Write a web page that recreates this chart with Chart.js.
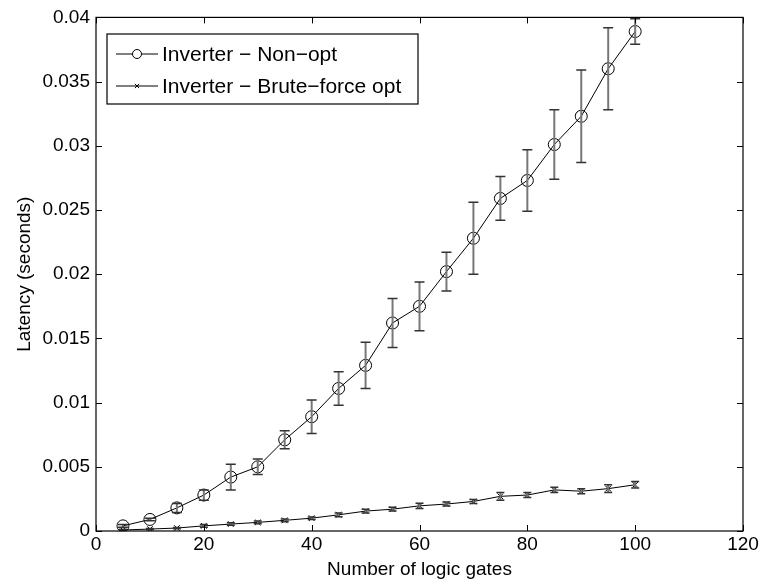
<!DOCTYPE html>
<html>
<head>
<meta charset="utf-8">
<script src="https://cdn.jsdelivr.net/npm/chart.js@4/dist/chart.umd.min.js"></script>
<style>
  html, body { margin: 0; padding: 0; background: #fff; }
  #wrap { width: 766px; height: 584px; }
</style>
</head>
<body>
<div id="wrap"><canvas id="latencyChart" width="766" height="584"></canvas></div>
<script>
const gates = [5, 10, 15, 20, 25, 30, 35, 40, 45, 50, 55, 60, 65, 70, 75, 80, 85, 90, 95, 100];

const nonOpt = [0.0004, 0.0009, 0.0018, 0.0028, 0.0042, 0.0050, 0.0071, 0.0089, 0.0111, 0.0129,
  0.0162, 0.0175, 0.0202, 0.0228, 0.0259, 0.0273, 0.0301, 0.0323, 0.0360, 0.0389];
const nonOptErr = [0.0001, 0.0001, 0.00035, 0.0004, 0.0010, 0.0006, 0.0007, 0.0013, 0.0013, 0.0018,
  0.0019, 0.0019, 0.0015, 0.0028, 0.0017, 0.0024, 0.0027, 0.0036, 0.0032, 0.0010];

const bruteOpt = [0.00008, 0.00015, 0.00023, 0.0004, 0.00054, 0.00067, 0.00083, 0.0010, 0.00126, 0.00155,
  0.0017, 0.00196, 0.0021, 0.0023, 0.0027, 0.0028, 0.0032, 0.0031, 0.0033, 0.0036];
const bruteOptErr = [0.00005, 0.00005, 0.00005, 0.0001, 0.0001, 0.0001, 0.0001, 0.0001, 0.00015, 0.00015,
  0.00015, 0.0002, 0.00015, 0.00015, 0.0003, 0.0002, 0.0002, 0.0002, 0.0003, 0.00025];

const xTicks = [0, 20, 40, 60, 80, 100, 120];
const yTicks = [0, 0.005, 0.01, 0.015, 0.02, 0.025, 0.03, 0.035, 0.04];

const FONT = '"Liberation Sans", Arial, Helvetica, sans-serif';

function pts(ys) {
  return gates.map((g, i) => ({ x: g, y: ys[i] }));
}

// error bars, frame, inward ticks and legend, all through the chart scales
const matlabLook = {
  id: 'matlabLook',
  afterDatasetsDraw(chart) {
    const ctx = chart.ctx;
    const xs = chart.scales.x, ys = chart.scales.y;
    ctx.save();
    chart.data.datasets.forEach(ds => {
      const cap = ds.capWidth;
      ds.data.forEach((p, i) => {
        const e = ds.errors[i];
        const px = xs.getPixelForValue(p.x);
        const top = ys.getPixelForValue(p.y + e);
        const bot = ys.getPixelForValue(p.y - e);
        ctx.strokeStyle = '#777';
        ctx.lineWidth = 2;
        ctx.beginPath();
        ctx.moveTo(px, top); ctx.lineTo(px, bot);
        ctx.stroke();
        ctx.strokeStyle = '#333';
        ctx.lineWidth = 1.5;
        ctx.beginPath();
        ctx.moveTo(px - cap, top); ctx.lineTo(px + cap, top);
        ctx.moveTo(px - cap, bot); ctx.lineTo(px + cap, bot);
        ctx.stroke();
      });
    });
    ctx.restore();
  },
  afterDraw(chart) {
    const ctx = chart.ctx;
    const a = chart.chartArea;
    const xs = chart.scales.x, ys = chart.scales.y;
    ctx.save();
    ctx.strokeStyle = '#000';
    ctx.lineWidth = 1.2;
    ctx.strokeRect(a.left, a.top, a.right - a.left, a.bottom - a.top);
    const t = 6;
    ctx.beginPath();
    xTicks.forEach(v => {
      const px = Math.round(xs.getPixelForValue(v)) + 0.5;
      ctx.moveTo(px, a.bottom); ctx.lineTo(px, a.bottom - t);
      ctx.moveTo(px, a.top); ctx.lineTo(px, a.top + t);
    });
    yTicks.forEach(v => {
      const py = Math.round(ys.getPixelForValue(v)) + 0.5;
      ctx.moveTo(a.left, py); ctx.lineTo(a.left + t, py);
      ctx.moveTo(a.right, py); ctx.lineTo(a.right - t, py);
    });
    ctx.lineWidth = 1;
    ctx.stroke();

    // legend box
    const lx = 107, ly = 34, lw = 311, lh = 70;
    ctx.fillStyle = '#fff';
    ctx.fillRect(lx, ly, lw, lh);
    ctx.lineWidth = 1.2;
    ctx.strokeRect(lx, ly, lw, lh);
    ctx.font = '21px ' + FONT;
    ctx.textBaseline = 'middle';
    chart.data.datasets.forEach((ds, i) => {
      const cy = ly + 20 + i * 32;
      ctx.strokeStyle = '#000';
      ctx.lineWidth = 1;
      ctx.beginPath();
      ctx.moveTo(116, cy); ctx.lineTo(158, cy);
      ctx.stroke();
      Chart.helpers.drawPoint(ctx, {
        pointStyle: ds.pointStyle,
        radius: ds.pointStyle === 'circle' ? 4.5 : 3,
        borderWidth: 1
      }, 137, cy);
      ctx.fillStyle = '#000';
      ctx.fillText(ds.label, 162, cy + 1);
    });
    ctx.restore();
  }
};

new Chart(document.getElementById('latencyChart'), {
  type: 'line',
  data: {
    datasets: [
      {
        label: 'Inverter \u2212 Non\u2212opt',
        data: pts(nonOpt),
        errors: nonOptErr,
        capWidth: 5,
        borderColor: '#000',
        backgroundColor: 'rgba(0,0,0,0)',
        borderWidth: 1,
        pointStyle: 'circle',
        pointRadius: 6,
        pointBorderWidth: 1,
        pointBorderColor: '#000',
        pointBackgroundColor: 'rgba(0,0,0,0)'
      },
      {
        label: 'Inverter \u2212 Brute\u2212force opt',
        data: pts(bruteOpt),
        errors: bruteOptErr,
        capWidth: 4,
        borderColor: '#000',
        backgroundColor: 'rgba(0,0,0,0)',
        borderWidth: 1,
        pointStyle: 'crossRot',
        pointRadius: 4,
        pointBorderWidth: 1,
        pointBorderColor: '#000'
      }
    ]
  },
  options: {
    responsive: false,
    animation: false,
    layout: { padding: { left: 0, right: 23, top: 15, bottom: 0 } },
    plugins: { legend: { display: false }, tooltip: { enabled: false } },
    scales: {
      x: {
        type: 'linear',
        min: 0, max: 120,
        afterBuildTicks: s => { s.ticks = xTicks.map(v => ({ value: v })); },
        afterFit: s => { s.height = 53; },
        grid: { display: false, drawTicks: false },
        border: { display: false },
        ticks: { color: '#000', font: { family: FONT, size: 19 }, padding: 2, maxRotation: 0 },
        title: { display: true, text: 'Number of logic gates', color: '#000',
          font: { family: FONT, size: 19 }, padding: { top: 0, bottom: 3 } }
      },
      y: {
        min: 0, max: 0.04,
        afterBuildTicks: s => { s.ticks = yTicks.map(v => ({ value: v })); },
        afterFit: s => { s.width = 96; },
        grid: { display: false, drawTicks: false },
        border: { display: false },
        ticks: { color: '#000', font: { family: FONT, size: 19 }, padding: 6,
          callback: v => String(Number(v.toFixed(4))) },
        title: { display: true, text: 'Latency (seconds)', color: '#000',
          font: { family: FONT, size: 19 }, padding: { top: 13, bottom: 0 } }
      }
    }
  },
  plugins: [matlabLook]
});
</script>
</body>
</html>
